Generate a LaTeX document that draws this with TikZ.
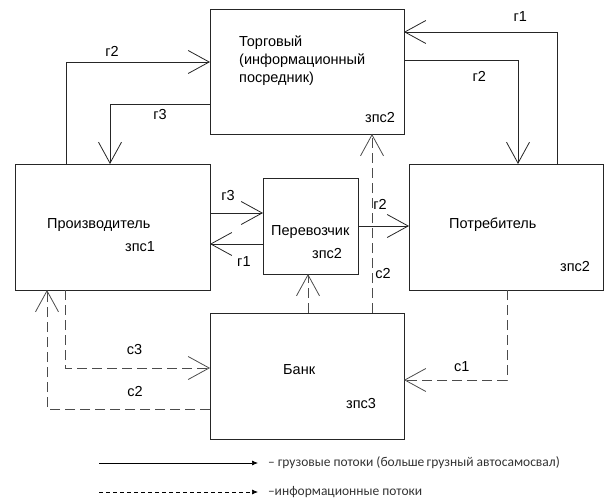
\documentclass[tikz,border=0pt]{standalone}
\usepackage{fontspec}
\setmainfont{Liberation Sans}
\newfontfamily\legendfont{Carlito}
\usetikzlibrary{arrows.meta, positioning}

\begin{document}
\begin{tikzpicture}[x=1pt, y=-1pt, >={Straight Barb[length=21pt, width=23pt]},
    box/.style={draw=black!85, line width=0.8pt, outer sep=0pt, inner sep=0pt},
    lbl/.style={inner sep=0pt, font=\fontsize{14.5}{18}\selectfont},
    tag/.style={inner sep=2pt, font=\fontsize{14.5}{18}\selectfont},
    flow/.style={->, draw=black!85, line width=0.8pt},
    info/.style={->, draw=black!70, line width=0.8pt, dash pattern=on 10pt off 5pt},
    legend/.style={anchor=west, inner sep=0pt, outer xsep=10pt, text=black!80,
      font=\legendfont\fontsize{13.5}{16}\selectfont}]
    \useasboundingbox (0,0) rectangle (608,500);

    % участники
    \node[box, minimum width=194pt, minimum height=125pt] (trade) at (307,71.5) {};
    \node[box, minimum width=195pt, minimum height=126pt] (prod) at (112.5,227) {};
    \node[box, minimum width=95pt, minimum height=96pt] (carrier) at (310.5,226) {};
    \node[box, minimum width=194pt, minimum height=126pt] (cons) at (506,227) {};
    \node[box, minimum width=194pt, minimum height=126pt] (bank) at (307,376) {};

    \node[lbl, anchor=base west, align=left] (tradename) at (239,83) {Торговый\\(информационный\\посредник)};
    \node[lbl, anchor=base west] (tradezone) at (365,123) {зпс2};
    \node[lbl, anchor=base west] (prodname) at (47,228) {Производитель};
    \node[lbl, anchor=base west] (prodzone) at (125,251) {зпс1};
    \node[lbl, anchor=base west] (carriername) at (271,235) {Перевозчик};
    \node[lbl, anchor=base west] (carrierzone) at (312,258) {зпс2};
    \node[lbl, anchor=base west] (consname) at (449,228) {Потребитель};
    \node[lbl, anchor=base west] (conszone) at (560,271) {зпс2};
    \node[lbl, anchor=base west] (bankname) at (283,374) {Банк};
    \node[lbl, anchor=base west] (bankzone) at (346,408) {зпс3};

    % грузовые потоки
    \draw[flow] ([xshift=51pt]prod.north west) |- node[tag, pos=0.66, above=3pt] {г2} ([yshift=9.5pt]trade.west);
    \draw[flow] ([yshift=-32.5pt]trade.west) -| node[tag, pos=0.25, below=3pt] {г3} ([xshift=95pt]prod.north west);
    \draw[flow] ([xshift=148pt]cons.north west) |- node[tag, pos=0.62, above=8pt] {г1} ([yshift=39.5pt]trade.east);
    \draw[flow] ([yshift=11.5pt]trade.east) -| node[tag, pos=0.33, below=9pt] {г2} ([xshift=109pt]cons.north west);
    \draw[flow] ([yshift=14pt]prod.east) -- node[tag, pos=0.34, above=10pt] {г3} ([yshift=13pt]carrier.west);
    \draw[flow] ([yshift=-18pt]carrier.west) -- node[tag, pos=0.36, below=10pt] {г1} ([yshift=-17pt]prod.east);
    \draw[flow] (carrier.east) -- node[tag, pos=0.43, above=14pt] {г2} (carrier.east -| cons.west);

    % информационные потоки
    \draw[info] ([xshift=162pt]bank.north west) -- node[tag, pos=0.22, right=1pt] {с2} ([xshift=162pt]trade.south west);
    \draw[info] ([xshift=98pt]bank.north west) -- ([xshift=-2.5pt]carrier.south);
    \draw[info] ([xshift=50pt]prod.south west) |- node[tag, pos=0.74, above=11pt] {с3} ([yshift=8pt]bank.west);
    \draw[info] ([yshift=-33pt]bank.west) -| node[tag, pos=0.23, above=10pt] {с2} ([xshift=32pt]prod.south west);
    \draw[info] ([xshift=98pt]cons.south west) |- node[tag, pos=0.72, above=6pt] {с1} ([yshift=-4pt]bank.east);

    % легенда
    \coordinate (freightstart) at (99,463);
    \coordinate (infostart) at (99,492);
    \node[legend] (freighttext) at (258,463) {– грузовые потоки (больше\,грузный автосамосвал)};
    \node[legend] (infotext) at (258,492) {–информационные потоки};
    \draw[-{Latex[length=6pt, width=5pt]}, line width=0.7pt] (freightstart) -- (freighttext.west);
    \draw[-{Latex[length=6pt, width=5pt]}, line width=0.7pt, dash pattern=on 4pt off 3pt] (infostart) -- (infotext.west);
\end{tikzpicture}
\end{document}
